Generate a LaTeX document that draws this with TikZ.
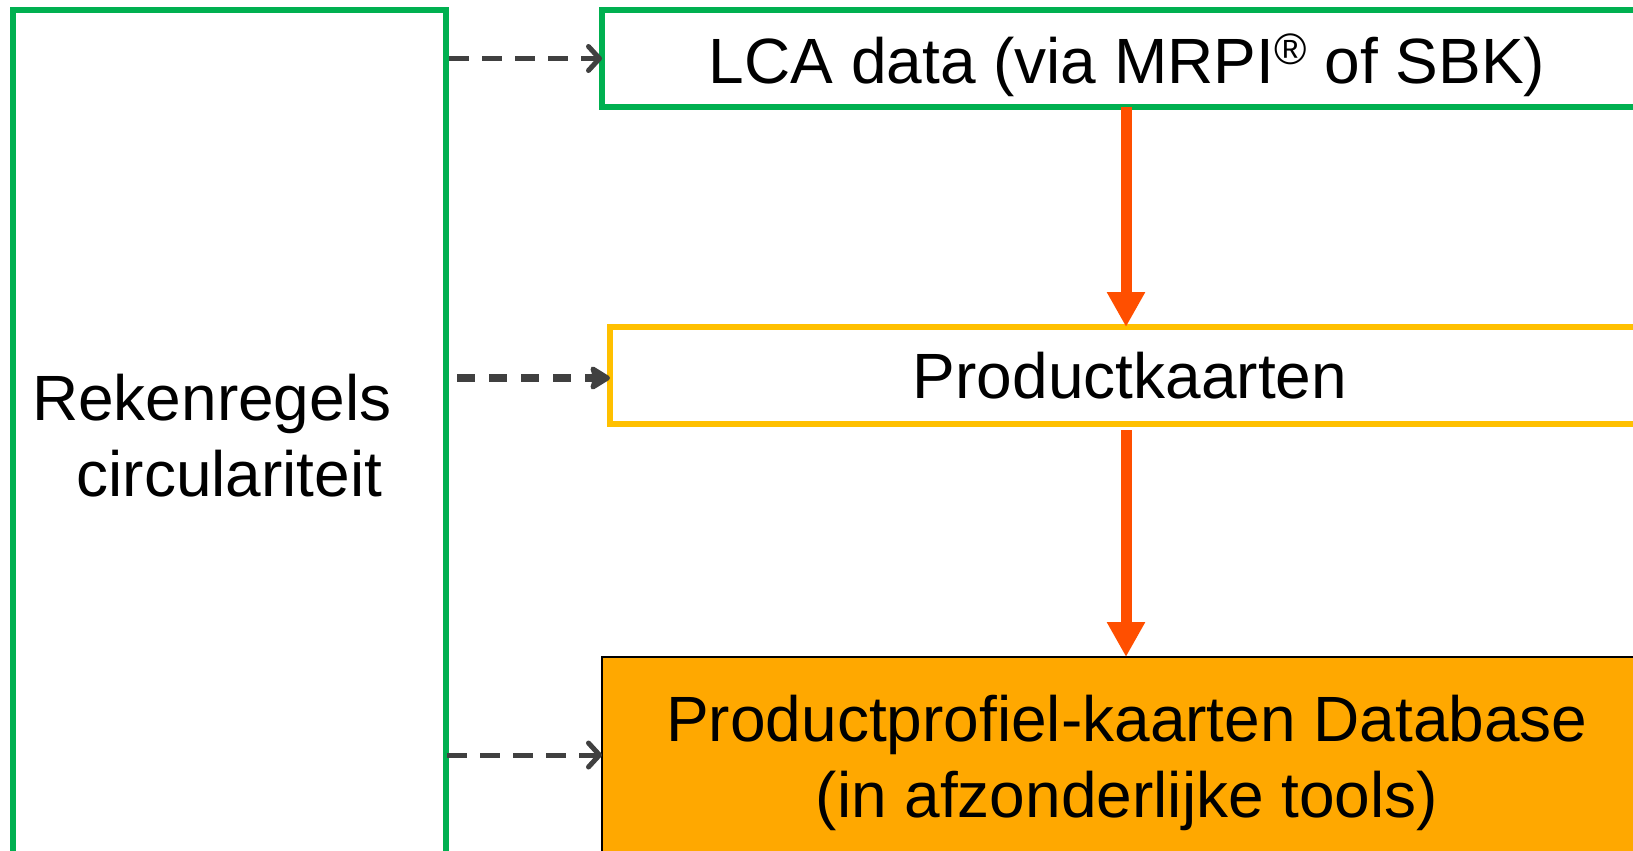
\documentclass[tikz,border=0pt]{standalone}
\usepackage{fontspec}
\setmainfont{Liberation Sans}
\usetikzlibrary{arrows.meta,positioning}
\definecolor{mygreen}{HTML}{00B050}
\definecolor{myyellow}{HTML}{FFC000}
\definecolor{myorange}{HTML}{FFA800}
\definecolor{myred}{HTML}{FF4F00}
\definecolor{mygrey}{HTML}{404040}
\pgfkeys{tikz/mybox/.style={draw,rectangle,inner sep=0pt,outer sep=0pt,align=center,font=\fontsize{64}{76}\selectfont}}
\pgfkeys{tikz/myflow/.style={myred,line width=11pt,-{Triangle[width=36pt,length=35pt]}}}
\pgfkeys{tikz/myref/.style={mygrey,line width=5pt,dash pattern=on 20pt off 13pt,-{Straight Barb[length=11pt,width=24pt,round]}}}
\pgfkeys{tikz/myrefbold/.style={mygrey,line width=8pt,dash pattern=on 18pt off 14pt,-{Stealth[length=23pt,width=28pt,inset=4pt,round]}}}
\newcommand\myreg{\raisebox{19pt}{\fontsize{44}{44}\selectfont ®}}

\begin{document}
\begin{tikzpicture}[x=1pt,y=-1pt]
    \useasboundingbox (0,0) rectangle (1633,851);
    \clip (0,0) rectangle (1633,851);
    \node[mybox,mygreen,line width=6pt,text=black,minimum width=433pt,minimum height=852pt] (rek) at (229.5,436)
        {Rekenregels\hphantom{~~}\\circulariteit};
    \node[mybox,mygreen,line width=6pt,text=black,minimum width=1050pt,minimum height=97pt] (lca) at (1127,58.5)
        {\rule{0pt}{63pt}LCA data (via MRPI\myreg\ of SBK)};
    \node[mybox,myyellow,line width=6pt,text=black,minimum width=1040pt,minimum height=97pt] (pk) at (1130,375.5)
        {Productkaarten};
    \node[mybox,black,line width=2pt,fill=myorange,minimum width=1050pt,minimum height=204pt] (db) at (1127,759)
        {\rule{0pt}{55pt}Productprofiel-kaarten Database\\(in afzonderlijke tools)};
    % rekenregels naar de drie lagen
    \draw[myref,shorten <=3pt] (rek.east |- lca.west) -- (lca.west);
    \draw[myrefbold,shorten <=11pt] (rek.east |- 0,378) -- (pk.west |- 0,378);
    \draw[myref,shorten <=1pt] (rek.east |- 0,755) -- (db.west |- 0,755);
    % doorstroom
    \draw[myflow] ([xshift=-1pt]lca.south) -- ([xshift=-1pt]lca.south |- pk.north);
    \draw[myflow,shorten <=6pt] ([xshift=-1pt]lca.south |- pk.south) -- ([xshift=-1pt]db.north);
\end{tikzpicture}
\end{document}
